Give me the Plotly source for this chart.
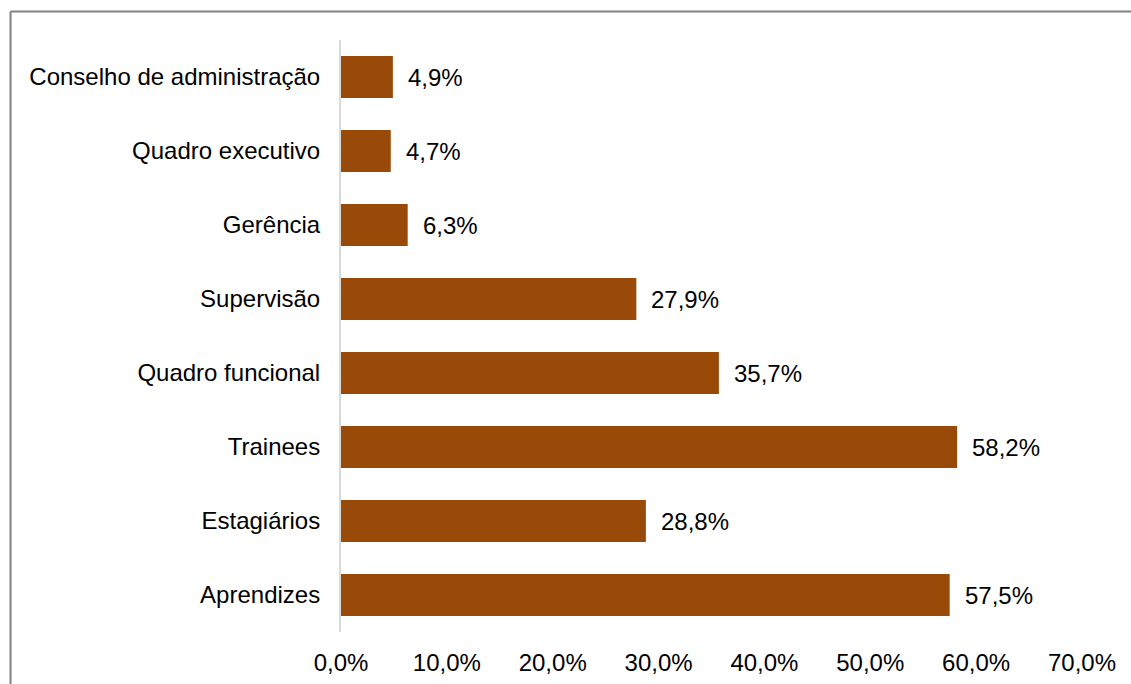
import plotly.graph_objects as go

# Share of women by hierarchical level (%)
categories = [
    "Conselho de administração",
    "Quadro executivo",
    "Gerência",
    "Supervisão",
    "Quadro funcional",
    "Trainees",
    "Estagiários",
    "Aprendizes",
]
values = [4.9, 4.7, 6.3, 27.9, 35.7, 58.2, 28.8, 57.5]
x_ticks = [0, 10, 20, 30, 40, 50, 60, 70]

BAR_COLOR = "#9A4A08"
FONT = "Liberation Sans, Arial, sans-serif"
FS = 24


def pct(v):
    return f"{v:.1f}".replace(".", ",") + "%"


fig = go.Figure(
    go.Bar(
        x=values,
        y=categories,
        orientation="h",
        marker=dict(color=BAR_COLOR, line=dict(width=0)),
        width=0.57,
        hoverinfo="x+y",
    )
)

# Value labels placed just right of each bar
for cat, v in zip(categories, values):
    fig.add_annotation(
        x=v, y=cat, xref="x", yref="y",
        text=pct(v),
        showarrow=False, xanchor="left", yanchor="middle",
        xshift=13, font=dict(family=FONT, size=FS, color="#000000"),
    )

# Outer chart frame (top and left edges visible)
frame = dict(color="#808080", width=2)
fig.add_shape(type="line", xref="paper", yref="paper",
              x0=-0.4460, x1=1.2, y0=1.048, y1=1.048, line=frame)
fig.add_shape(type="line", xref="paper", yref="paper",
              x0=-0.4460, x1=-0.4460, y0=-0.2, y1=1.048, line=frame)

fig.update_layout(
    width=1131,
    height=684,
    margin=dict(l=341, r=49, t=40, b=52, autoexpand=False),
    paper_bgcolor="white",
    plot_bgcolor="white",
    showlegend=False,
    font=dict(family=FONT, size=FS, color="#000000"),
    xaxis=dict(
        range=[0, 70],
        tickvals=x_ticks,
        ticktext=[pct(t) for t in x_ticks],
        showgrid=False,
        zeroline=False,
        showline=False,
        ticks="",
        automargin=False,
        ticklabelstandoff=14,
        tickfont=dict(family=FONT, size=FS, color="#000000"),
    ),
    yaxis=dict(
        categoryorder="array",
        categoryarray=categories,
        autorange="reversed",
        showgrid=False,
        zeroline=False,
        showline=True,
        linecolor="#D9D9D9",
        linewidth=2,
        ticks="",
        automargin=False,
        ticklabelstandoff=14,
        tickfont=dict(family=FONT, size=FS, color="#000000"),
    ),
)

fig.write_html("out.html")
